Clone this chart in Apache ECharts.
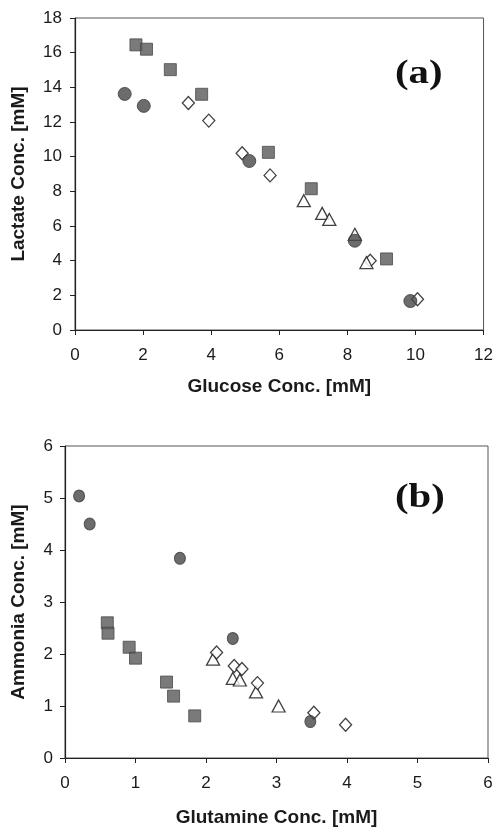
<!DOCTYPE html>
<html><head><meta charset="utf-8">
<script src="https://cdn.jsdelivr.net/npm/echarts@6/dist/echarts.min.js"></script>
<style>html,body{margin:0;padding:0;background:#fff}#c{width:496px;height:828px}</style>
</head><body><div id="c"></div>
<script>
// Panel (a): Glucose vs Lactate
const aSquares = [[1.79,16.45],[2.10,16.2],[2.80,15.02],[3.72,13.6],[5.68,10.25],[6.94,8.15],[9.15,4.1]];
const aCircles = [[1.46,13.62],[2.02,12.93],[5.12,9.75],[8.22,5.15],[9.85,1.67]];
const aDiamonds = [[3.33,13.1],[3.93,12.08],[4.91,10.2],[5.73,8.92],[8.67,4.0],[10.06,1.77]];
const aTriangles = [[6.72,7.46],[7.26,6.73],[7.47,6.38],[8.22,5.52],[8.56,3.89]];
// Panel (b): Glutamine vs Ammonia
const bCircles = [[0.20,5.04],[0.35,4.5],[1.63,3.84],[2.38,2.30],[3.48,0.70]];
const bSquares = [[0.60,2.6],[0.61,2.40],[0.91,2.13],[1.00,1.92],[1.44,1.46],[1.54,1.19],[1.84,0.81]];
const bDiamonds = [[2.15,2.03],[2.40,1.77],[2.51,1.71],[2.73,1.44],[3.53,0.87],[3.98,0.64]];
const bTriangles = [[2.10,1.90],[2.38,1.53],[2.48,1.50],[2.71,1.27],[3.03,1.00]];

const xTicksA = [0,2,4,6,8,10,12];
const yTicksA = [0,2,4,6,8,10,12,14,16,18];
const xTicksB = [0,1,2,3,4,5,6];
const yTicksB = [0,1,2,3,4,5,6];

const FONT = 'Liberation Sans, Arial, sans-serif';
const lab = {fontFamily: FONT, fontSize: 17, color: '#1a1a1a'};
const nameStyle = {fontFamily: FONT, fontSize: 19, fontWeight: 'bold', color: '#1a1a1a'};
const axisLine = {show: true, onZero: false, lineStyle: {color: '#222', width: 1.2}};
const axisTick = {show: true, inside: false, length: 5, lineStyle: {color: '#222'}};

function xAxis(gi, ticks, name, gap) {
  return {type: 'value', gridIndex: gi, min: ticks[0], max: ticks[ticks.length-1],
    interval: ticks[1]-ticks[0], name: name, nameLocation: 'middle', nameGap: gap,
    nameTextStyle: nameStyle, axisLine: axisLine, axisTick: axisTick,
    axisLabel: Object.assign({margin: 17}, lab), splitLine: {show: false}};
}
function yAxis(gi, ticks, name, gap, m) {
  return {type: 'value', gridIndex: gi, min: ticks[0], max: ticks[ticks.length-1],
    interval: ticks[1]-ticks[0], name: name, nameLocation: 'middle', nameGap: gap,
    nameTextStyle: nameStyle, axisLine: axisLine, axisTick: axisTick,
    axisLabel: Object.assign({margin: m}, lab), splitLine: {show: false}};
}
const filledSq = {color: '#595959', borderColor: '#4a4a4a', borderWidth: 1};
const filledCi = {color: '#474747', borderColor: '#3a3a3a', borderWidth: 1};
const open = {color: '#fff', borderColor: '#111', borderWidth: 1.3};
const TRI = 'path://M0,-10 L10,10 L-10,10 Z';
const DIA = 'path://M0,-10 L10,0 L0,10 L-10,0 Z';

function s(data, gi, symbol, size, style, z) {
  return {type: 'scatter', xAxisIndex: gi, yAxisIndex: gi, data: data, symbol: symbol,
    symbolSize: size, itemStyle: style, z: z || 2, silent: true, animation: false};
}
const panelFont = 'bold 34px "Liberation Serif", "Times New Roman", serif';

const chart = echarts.init(document.getElementById('c'), null, {renderer: 'canvas'});
chart.setOption({
  backgroundColor: '#fff',
  animation: false,
  grid: [
    {left: 75, right: 12, top: 18, height: 312, show: true, borderColor: '#555', borderWidth: 1, backgroundColor: 'transparent'},
    {left: 65, right: 8, top: 446, height: 312, show: true, borderColor: '#555', borderWidth: 1, backgroundColor: 'transparent'}
  ],
  xAxis: [xAxis(0, xTicksA, 'Glucose Conc. [mM]', 47), xAxis(1, xTicksB, 'Glutamine Conc. [mM]', 50)],
  yAxis: [yAxis(0, yTicksA, 'Lactate Conc. [mM]', 47, 13), yAxis(1, yTicksB, 'Ammonia Conc. [mM]', 37, 12)],
  graphic: [
    {type: 'text', x: 395, y: 57, scaleX: 1.2, style: {text: '(a)', font: panelFont, fill: '#111', textVerticalAlign: 'top'}},
    {type: 'text', x: 395, y: 481, scaleX: 1.2, style: {text: '(b)', font: panelFont, fill: '#111', textVerticalAlign: 'top'}}
  ],
  series: [
    s(aDiamonds, 0, DIA, [12,13], open, 2),
    s(aTriangles, 0, TRI, [13,12], open, 2),
    s(aSquares, 0, 'rect', 12, filledSq, 3),
    s(aCircles, 0, 'circle', 13, filledCi, 3),
    s(bDiamonds, 1, DIA, [12,13], open, 3),
    s(bTriangles, 1, TRI, [13,12], open, 2),
    s(bSquares, 1, 'rect', 12, filledSq, 3),
    s(bCircles, 1, 'circle', [11,12], filledCi, 3)
  ]
});
</script></body></html>
